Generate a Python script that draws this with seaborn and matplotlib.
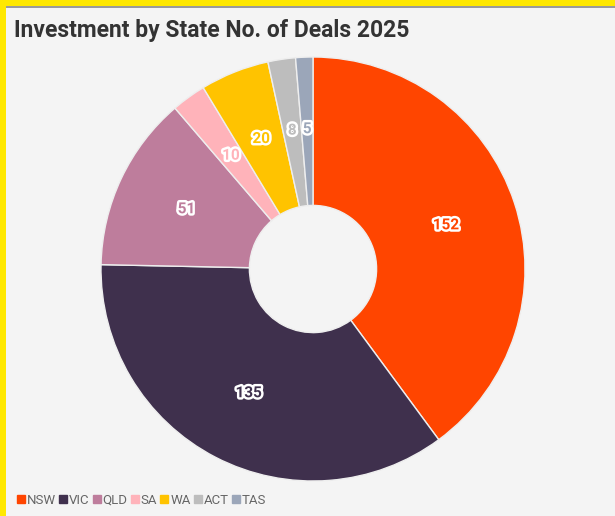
import matplotlib
matplotlib.use("Agg")
import matplotlib.pyplot as plt
import matplotlib.patheffects as pe
from matplotlib.patches import Rectangle
from matplotlib.lines import Line2D
import seaborn as sns

# Deals per state, 2025
states = ["NSW", "VIC", "QLD", "SA", "WA", "ACT", "TAS"]
deals = [152, 135, 51, 10, 20, 8, 5]
colors = ["#ff4500", "#3f304d", "#be7d9c", "#ffb3ba", "#ffc300", "#bdbdbd", "#9ba6b9"]

sns.set_theme(style="white")
plt.rcParams["font.family"] = ["Roboto", "DejaVu Sans"]

bg = "#f4f4f4"
fig = plt.figure(figsize=(6.15, 5.16), dpi=100, facecolor=bg)

palette = sns.color_palette(colors)
ax = fig.add_axes([101 / 615, 35 / 516, 424 / 615, 424 / 516])
ax.set_facecolor(bg)
wedges, texts = ax.pie(
    deals,
    colors=palette,
    startangle=90,
    counterclock=False,
    radius=1.0,
    labels=[str(v) for v in deals],
    labeldistance=0.66,
    wedgeprops=dict(width=0.70, edgecolor="#eeeeee", linewidth=1.0),
    textprops=dict(fontsize=11, fontweight="bold"),
)
for t, c in zip(texts, palette):
    t.set_color(c)
    t.set_horizontalalignment("center")
    t.set_verticalalignment("center")
    t.set_path_effects([pe.withStroke(linewidth=3.5, foreground="white")])
ax.set_xlim(-1, 1)
ax.set_ylim(-1, 1)
ax.set_aspect("equal")
ax.axis("off")

# Title
fig.text(14 / 615, 1 - 31 / 516, "Investment by State No. of Deals 2025",
         fontsize=16.5, fontweight="bold", color="#333333",
         ha="left", va="center")

# Legend
handles = [Line2D([0], [0], marker="s", linestyle="none", markersize=6,
                  markerfacecolor=c, markeredgecolor=c) for c in palette]
leg = fig.legend(handles, states, loc="center left",
                 bbox_to_anchor=(8 / 615, 1 - 500 / 516), ncol=len(states),
                 frameon=False, fontsize=9.5, handlelength=0.5, handletextpad=0.2,
                 columnspacing=0.3, borderpad=0.2)
for txt in leg.get_texts():
    txt.set_color("#666666")

# Frame strips along the top and left edges
fig.patches.append(Rectangle((0, 1 - 8 / 516), 1, 2 / 516, transform=fig.transFigure,
                             facecolor="#9a9a9a", edgecolor="none", zorder=5))
fig.patches.append(Rectangle((0, 1 - 6 / 516), 1, 6 / 516, transform=fig.transFigure,
                             facecolor="#ffe800", edgecolor="none", zorder=6))
fig.patches.append(Rectangle((0, 0), 6 / 615, 1, transform=fig.transFigure,
                             facecolor="#ffe800", edgecolor="none", zorder=6))

fig.savefig("out.png", dpi=100, facecolor=bg)
